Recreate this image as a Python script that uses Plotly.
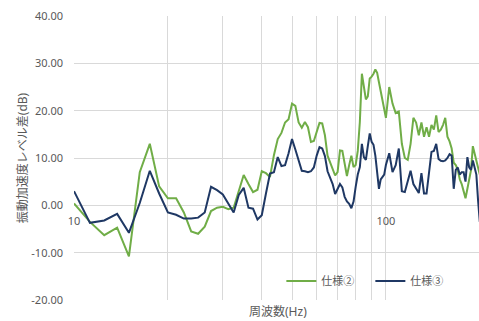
import plotly.graph_objects as go

# Frequencies (Hz)
freq = [10, 11.25, 12.5, 13.75, 15, 16.25, 17.5, 18.75, 20, 21.25, 22.5, 23.75, 25, 26.25,
        27.5, 28.75, 30, 31.25, 32.5, 33.75, 35, 36.25, 37.5, 38.75, 40, 41.25, 42.5, 43.75,
        45, 46.25, 47.5, 48.75, 50, 51.25, 52.5, 53.75, 55, 56.25, 57.5, 58.75, 60, 61.25,
        62.5, 63.75, 65, 66.25, 67.5, 68.75, 70, 71.25, 72.5, 73.75, 75, 76.25, 77.5, 78.75,
        80, 81.25, 82.5, 83.75, 85, 86.25, 87.5, 88.75, 90, 91.25, 92.5, 93.75, 95, 96.25,
        97.5, 98.75, 100,
        102.5, 105, 107.5, 110, 112.5, 115, 117.5, 120, 122.5, 125,
        127.5, 130, 132.5, 135, 137.5, 140, 142.5, 145, 147.5, 150,
        152.5, 155, 157.5, 160, 162.5, 165, 167.5, 170, 172.5, 175,
        177.5, 180, 182.5, 185, 187.5, 190, 192.5, 195, 197.5, 200]

# 仕様②
spec2 = [0.4, -3.5, -6.3, -4.7, -10.8, 7.0, 13.0, 4.0, 1.5, 1.5, -1.5, -5.5, -6.0, -4.5,
         -1.2, -0.5, -0.3, -0.8, -0.5, 3.0, 6.4, 4.5, 2.8, 3.3, 7.2, 6.8, 6.0, 10.6,
         14.0, 15.3, 17.5, 18.2, 21.5, 21.0, 17.5, 16.4, 17.6, 16.5, 13.4, 13.6, 15.8, 17.4,
         17.3, 14.8, 10.5, 9.0, 7.8, 6.3, 7.0, 11.6, 11.5, 8.8, 6.2, 8.5, 10.5, 8.1,
         8.5, 11.5, 17.6, 27.8, 25.5, 22.4, 23.0, 26.8, 27.2, 27.8, 28.7, 28.0, 26.0, 24.0,
         22.0, 20.0, 18.5,
         25.0, 21.5, 19.5, 19.8, 13.0, 10.0, 9.6, 13.0, 18.5, 17.5,
         14.8, 17.5, 14.5, 16.5, 14.5, 17.0, 16.0, 19.0, 15.5, 16.0,
         17.0, 18.5, 14.5, 13.5, 12.0, 9.0, 8.5, 7.5, 5.5, 4.5,
         3.0, 1.5, 3.5, 6.0, 7.5, 12.5, 11.0, 9.5, 8.0, 6.5]

# 仕様③
spec3 = [3.0, -3.7, -3.2, -1.8, -5.8, 0.5, 7.3, 2.5, -1.5, -2.0, -2.8, -2.8, -2.6, -1.5,
         3.9, 3.2, 2.3, 0.4, -1.5, 2.2, 3.7, -0.5, -0.7, -3.0, -2.1, 2.5, 6.7, 7.0,
         10.2, 8.3, 8.5, 11.0, 14.0, 11.8, 9.5, 7.3, 7.2, 7.0, 7.2, 8.0, 10.5, 12.3,
         12.0, 10.4, 7.2, 5.8, 4.5, 2.4, 3.3, 4.5, 3.8, 1.8, 0.8, 0.3, -0.6, 0.8,
         3.9, 6.5, 8.1, 13.0, 10.2, 9.6, 12.5, 15.2, 13.4, 12.8, 10.5, 6.5, 3.5, 5.5,
         6.0, 6.5, 8.5,
         11.0, 7.0, 8.5, 12.0, 3.0, 2.8, 5.0, 7.3, 4.5, 3.5,
         2.6, 6.8, 2.5, 2.5, 6.5, 11.3, 11.5, 13.0, 9.8, 9.4,
         9.3, 9.5, 10.0, 10.8, 10.5, 3.5, 7.5, 8.0, 6.5, 7.0,
         7.0, 5.0, 10.2, 8.0, 7.5, 9.5, 8.0, 6.5, 1.0, -3.5]

y_ticks = [-20, -10, 0, 10, 20, 30, 40]
x_grid = [10, 20, 30, 40, 50, 60, 70, 80, 90, 100, 200]
x_labels = {10: "10", 100: "100"}

GREEN = "#70AD47"
BLUE = "#1F3864"
GRID = "#D9D9D9"
TXT = "#595959"
FONT = "Noto Sans, Noto Sans CJK JP, sans-serif"

fig = go.Figure()
fig.add_trace(go.Scatter(x=freq, y=spec2, mode="lines", name="仕様②",
                         line=dict(color=GREEN, width=2)))
fig.add_trace(go.Scatter(x=freq, y=spec3, mode="lines", name="仕様③",
                         line=dict(color=BLUE, width=2)))

fig.update_layout(
    template="none",
    width=479, height=321,
    margin=dict(l=74, r=0, t=16, b=21),
    paper_bgcolor="white", plot_bgcolor="white",
    font=dict(family=FONT, size=11, color=TXT),
    showlegend=True,
    legend=dict(orientation="h", x=0.512, y=0.067, xanchor="left", yanchor="middle",
                bgcolor="rgba(0,0,0,0)", font=dict(size=11, color=TXT),
                entrywidth=44, entrywidthmode="pixels"),
    xaxis=dict(type="log", range=[1, 2.2985],
               tickvals=x_grid, ticktext=[x_labels.get(v, "") for v in x_grid],
               showgrid=True, gridcolor=GRID, gridwidth=1, color=TXT,
               showline=False, zeroline=False, ticks="",
               anchor="free", position=1/3, ticklabelstandoff=8,
               tickfont=dict(size=11, color=TXT)),
    yaxis=dict(range=[-20, 40], tickvals=y_ticks,
               ticktext=[f"{v:.2f}" for v in y_ticks],
               showgrid=True, gridcolor=GRID, gridwidth=1, color=TXT,
               showline=False, zeroline=False, ticks="",
               ticklabelstandoff=10, tickfont=dict(size=11, color=TXT)),
    annotations=[
        dict(text="振動加速度レベル差(dB)", xref="paper", yref="paper",
             x=-0.128, y=0.5, textangle=-90, showarrow=False,
             font=dict(size=12, color=TXT), xanchor="center", yanchor="middle"),
        dict(text="周波数(Hz)", xref="paper", yref="paper",
             x=0.504, y=-0.042, showarrow=False,
             font=dict(size=12, color=TXT), xanchor="center", yanchor="middle"),
    ],
)

fig.write_html("out.html")
